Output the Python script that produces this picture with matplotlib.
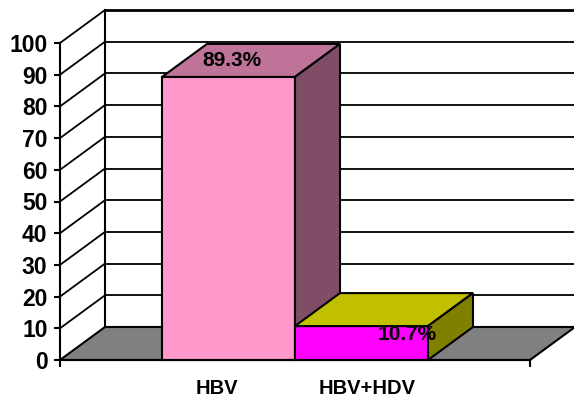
import matplotlib
matplotlib.use("Agg")
import matplotlib.pyplot as plt
from matplotlib.patches import Polygon

plt.rcParams['font.family'] = ['Liberation Sans', 'DejaVu Sans']
plt.rcParams['font.weight'] = 'bold'

categories = ['HBV', 'HBV+HDV']
percent = [89.3, 10.7]
front_colors = ['#FF99CC', '#FF00FF']
top_colors = ['#BF7399', '#C0C000']
side_colors = ['#804D66', '#808000']
yticks = list(range(0, 101, 10))

W, H = 574, 400
fig = plt.figure(figsize=(W / 100, H / 100), dpi=100)
# front plane of the 3d box
ax = fig.add_axes([60 / W, 40 / H, 470 / W, 317 / H])
x0, x1 = -1.267, 2.267
ax.set_xlim(x0, x1)
ax.set_ylim(0, 100)

# depth of the box, in data units (45 px right, 33 px up)
dx = 45 / (470 / (x1 - x0))
dy = 33 / (317 / 100)

# floor
ax.add_patch(Polygon([(x0, 0), (x1, 0), (x1 + dx, dy), (x0 + dx, dy)],
                     closed=True, fc='#808080', ec='black', lw=1.5,
                     clip_on=False, zorder=1))

# back wall and side wall grid
for v in yticks[1:]:
    lw = 2.0 if v == 100 else 1.3
    ax.plot([x0 + dx, x1 + dx + 0.1], [v + dy, v + dy], color='black', lw=lw,
            clip_on=False, zorder=1.2, solid_capstyle='butt')
    ax.plot([x0, x0 + dx], [v, v + dy], color='black', lw=1.3,
            clip_on=False, zorder=1.2)
ax.plot([x0 + dx, x0 + dx], [dy, 100 + dy], color='black', lw=1.5,
        clip_on=False, zorder=1.2)

# bars: front faces via bar(), then top and side faces
xs = list(range(len(categories)))
bars = ax.bar(xs, percent, width=1.0, color=front_colors, edgecolor='black',
              linewidth=1.5, clip_on=False)
for i, v in enumerate(percent):
    bars[i].set_zorder(3 + i)
    l, r = xs[i] - 0.5, xs[i] + 0.5
    top = [(l, v), (r, v), (r + dx, v + dy), (l + dx, v + dy)]
    side = [(r, 0), (r, v), (r + dx, v + dy), (r + dx, dy)]
    ax.add_patch(Polygon(top, closed=True, fc=top_colors[i], ec='black',
                         lw=1.5, clip_on=False, zorder=3 + i))
    ax.add_patch(Polygon(side, closed=True, fc=side_colors[i], ec='black',
                         lw=1.5, clip_on=False, zorder=3 + i))

# value labels (excel-ish placement)
offsets = [(3, 16), (46, -8)]
for i, v in enumerate(percent):
    ax.annotate(f'{v}%', (xs[i], v), xytext=offsets[i], textcoords='offset pixels',
                ha='center', va='center', fontsize=15, fontweight='bold',
                zorder=10)

# category labels
cat_off = [-12, 6]
for i, c in enumerate(categories):
    ax.annotate(c, (xs[i], 0), xytext=(cat_off[i], -29), textcoords='offset pixels',
                ha='center', va='center', fontsize=14.5, fontweight='bold',
                annotation_clip=False)

for s in ['top', 'right']:
    ax.spines[s].set_visible(False)
ax.spines['left'].set_linewidth(1.5)
ax.spines['bottom'].set_linewidth(1.5)
ax.spines['left'].set_zorder(6)
ax.spines['bottom'].set_zorder(6)
ax.patch.set_visible(False)
ax.set_yticks(yticks)
ax.set_xticks([x0, x1])
ax.set_xticklabels([])
ax.tick_params(axis='y', direction='out', length=4, width=1.5, pad=5,
               labelsize=16.5)
ax.tick_params(axis='x', direction='out', length=5, width=1.5)
for t in ax.get_yticklabels():
    t.set_fontweight('bold')

fig.savefig('out.png', dpi=100)
